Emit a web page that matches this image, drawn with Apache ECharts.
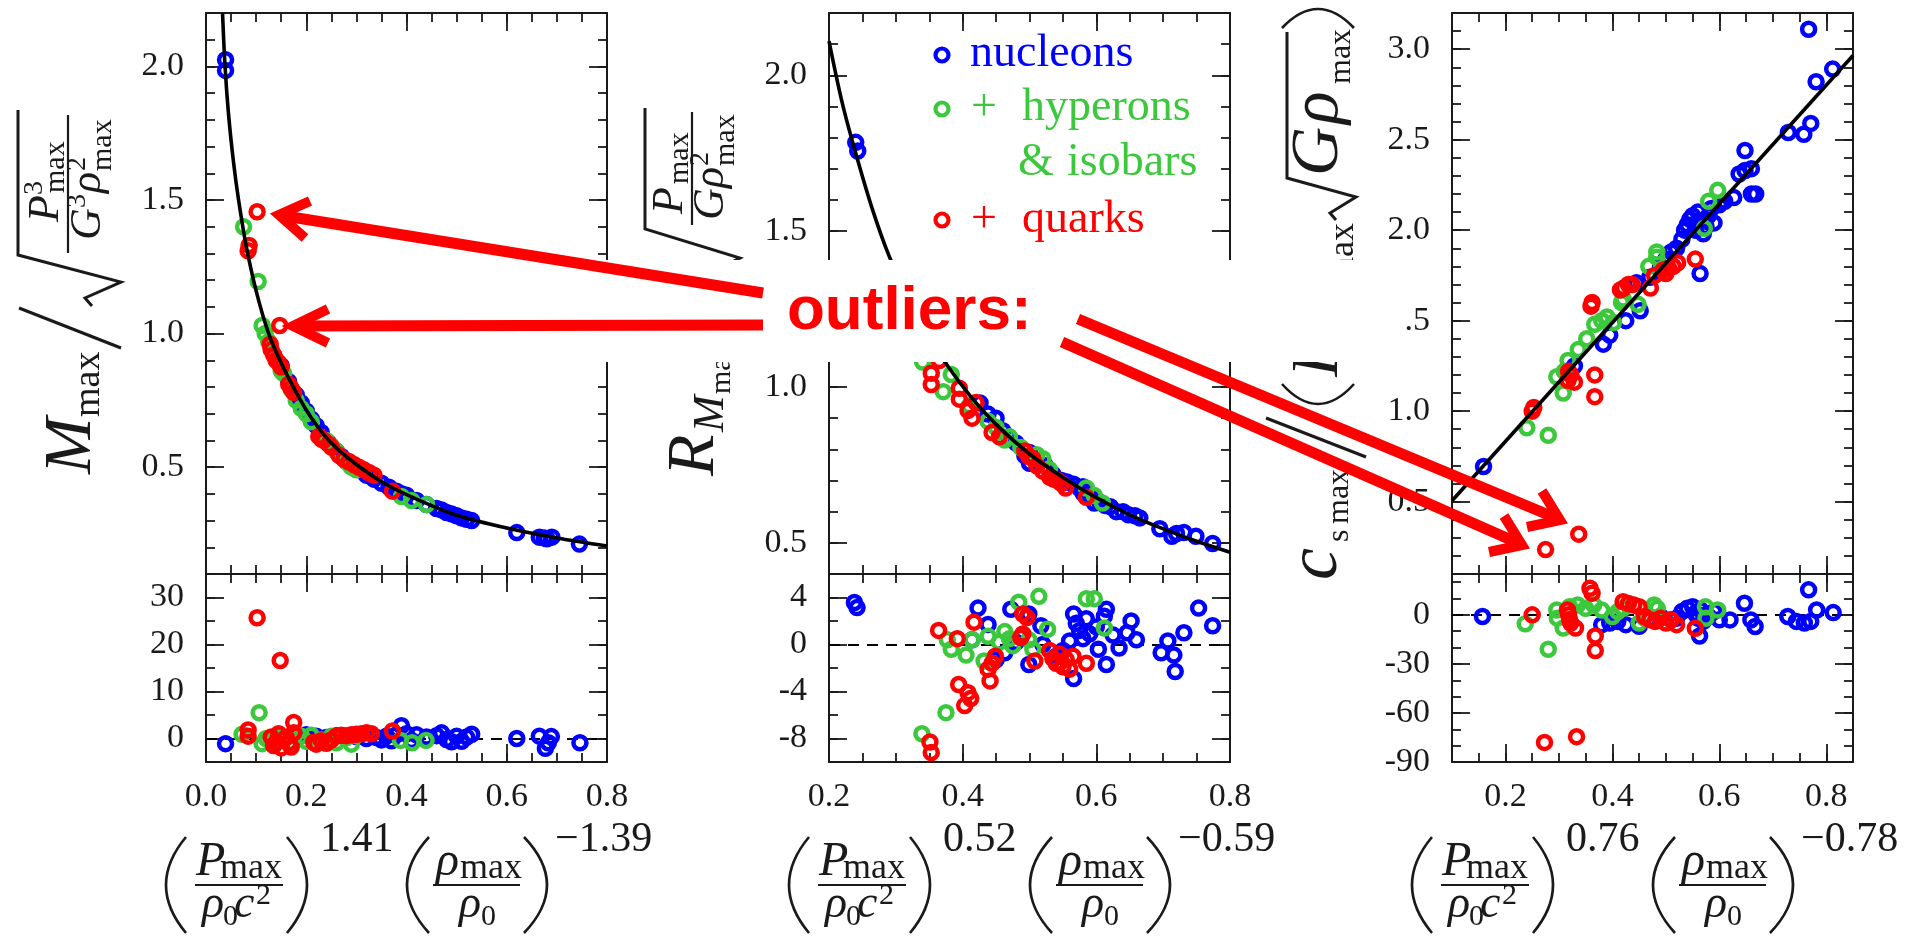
<!DOCTYPE html>
<html>
<head>
<meta charset="utf-8">
<script src="https://cdn.jsdelivr.net/npm/echarts@6/dist/echarts.min.js"></script>
<style>
  html, body { margin: 0; padding: 0; background: #ffffff; }
  #chart { width: 1907px; height: 938px; }
</style>
</head>
<body>
<div id="chart"></div>
<script>
// ---------------- data ----------------
// Panel 1: M_max scaled, against (P/rho0 c^2)^1.41 (rho/rho0)^-1.39
const massNucleons = [[0.039,2.025],[0.039,1.985],[0.15,0.88],[0.165,0.82],[0.18,0.77],[0.19,0.74],[0.2,0.71],[0.21,0.68],[0.22,0.655],[0.23,0.63],[0.245,0.59],[0.26,0.56],[0.27,0.54],[0.285,0.52],[0.3,0.5],[0.32,0.47],[0.335,0.455],[0.35,0.44],[0.365,0.425],[0.38,0.41],[0.39,0.4],[0.4,0.395],[0.42,0.375],[0.44,0.36],[0.46,0.345],[0.47,0.34],[0.48,0.33],[0.49,0.325],[0.5,0.318],[0.51,0.31],[0.52,0.305],[0.53,0.3],[0.62,0.255],[0.665,0.238],[0.675,0.235],[0.68,0.232],[0.69,0.238],[0.745,0.212]];
const massHyperons = [[0.075,1.4],[0.104,1.195],[0.112,1.03],[0.118,1.0],[0.125,0.97],[0.15,0.86],[0.155,0.85],[0.17,0.79],[0.18,0.75],[0.19,0.72],[0.2,0.7],[0.21,0.67],[0.24,0.6],[0.25,0.58],[0.26,0.56],[0.28,0.52],[0.29,0.5],[0.3,0.49],[0.39,0.39],[0.41,0.375],[0.44,0.36]];
const massQuarks = [[0.086,1.33],[0.084,1.31],[0.102,1.456],[0.147,1.03],[0.128,0.96],[0.13,0.94],[0.135,0.92],[0.14,0.9],[0.145,0.89],[0.15,0.875],[0.165,0.81],[0.17,0.795],[0.175,0.78],[0.225,0.615],[0.23,0.605],[0.235,0.6],[0.245,0.585],[0.25,0.575],[0.265,0.545],[0.275,0.53],[0.285,0.52],[0.295,0.51],[0.305,0.5],[0.315,0.49],[0.325,0.48],[0.335,0.47],[0.372,0.41]];
const massFit = [[0.033,2.2],[0.038,2.0],[0.045,1.82],[0.055,1.64],[0.065,1.5],[0.08,1.33],[0.1,1.16],[0.125,1.0],[0.15,0.89],[0.18,0.78],[0.21,0.685],[0.25,0.59],[0.3,0.51],[0.36,0.435],[0.43,0.372],[0.5,0.32],[0.6,0.272],[0.7,0.235],[0.8,0.205]];
const massDevNucleons = [[0.039,-1.1],[0.15,0.5],[0.18,0.6],[0.2,0.8],[0.22,0.5],[0.24,0.2],[0.26,0.6],[0.28,0.3],[0.3,0.4],[0.32,0.0],[0.34,0.2],[0.35,-0.3],[0.36,0.5],[0.37,-0.5],[0.38,0.8],[0.39,2.7],[0.4,1.0],[0.41,-0.4],[0.42,0.8],[0.44,0.3],[0.46,0.6],[0.47,1.2],[0.48,-0.2],[0.49,-0.7],[0.5,0.5],[0.51,-0.6],[0.52,0.3],[0.53,0.9],[0.62,0.0],[0.665,0.5],[0.677,-2.1],[0.683,-0.9],[0.689,0.4],[0.746,-0.9]];
const massDevHyperons = [[0.072,0.9],[0.106,5.5],[0.112,-1.1],[0.12,0.0],[0.13,-0.5],[0.15,0.3],[0.17,-0.8],[0.19,0.5],[0.2,-0.6],[0.21,0.7],[0.23,-0.3],[0.25,0.5],[0.26,-0.9],[0.28,0.2],[0.29,-1.2],[0.3,0.6],[0.388,-0.4],[0.411,-0.9],[0.439,-0.4]];
const massDevQuarks = [[0.102,25.7],[0.148,16.6],[0.175,3.4],[0.084,1.8],[0.084,0.5],[0.13,0.3],[0.135,-1.5],[0.14,-0.8],[0.145,1.0],[0.15,-2.0],[0.16,0.2],[0.165,-1.0],[0.17,-1.8],[0.175,1.2],[0.215,-0.8],[0.22,-1.2],[0.23,-0.5],[0.24,-1.0],[0.25,-0.3],[0.26,0.5],[0.27,0.7],[0.28,0.6],[0.29,0.8],[0.3,0.9],[0.31,1.0],[0.32,1.2],[0.33,1.0],[0.372,1.6]];

// Panel 2: radius of the maximum-mass star
const radiusNucleons = [[0.24,1.785],[0.243,1.757],[0.426,0.949],[0.438,0.913],[0.45,0.9],[0.46,0.86],[0.469,0.84],[0.48,0.82],[0.493,0.78],[0.5,0.79],[0.5,0.755],[0.51,0.76],[0.524,0.747],[0.535,0.72],[0.548,0.7],[0.556,0.695],[0.566,0.688],[0.575,0.675],[0.58,0.66],[0.58,0.68],[0.59,0.655],[0.597,0.628],[0.605,0.63],[0.613,0.62],[0.621,0.616],[0.63,0.6],[0.64,0.6],[0.648,0.59],[0.658,0.587],[0.665,0.58],[0.695,0.545],[0.713,0.521],[0.72,0.53],[0.731,0.533],[0.749,0.521],[0.774,0.498]];
const radiusHyperons = [[0.33,1.16],[0.35,1.12],[0.34,1.08],[0.371,0.985],[0.383,1.04],[0.41,0.94],[0.438,0.89],[0.45,0.87],[0.463,0.83],[0.47,0.84],[0.487,0.806],[0.511,0.783],[0.52,0.77],[0.53,0.735],[0.585,0.676],[0.597,0.652],[0.609,0.628]];
const radiusQuarks = [[0.34,1.15],[0.345,1.12],[0.353,1.044],[0.353,1.008],[0.365,1.085],[0.395,0.996],[0.395,0.961],[0.408,0.925],[0.414,0.9],[0.42,0.95],[0.444,0.854],[0.455,0.84],[0.493,0.795],[0.499,0.777],[0.505,0.77],[0.511,0.747],[0.52,0.73],[0.53,0.711],[0.536,0.705],[0.542,0.7],[0.548,0.69],[0.554,0.676],[0.585,0.646]];
const radiusFit = [[0.2,2.11],[0.22,1.91],[0.24,1.75],[0.265,1.57],[0.29,1.42],[0.32,1.28],[0.35,1.16],[0.38,1.06],[0.41,0.975],[0.45,0.88],[0.5,0.785],[0.55,0.71],[0.6,0.645],[0.65,0.59],[0.7,0.545],[0.75,0.505],[0.8,0.47]];
const radiusDevNucleons = [[0.238,3.57],[0.242,3.14],[0.423,3.1],[0.472,3.0],[0.438,1.7],[0.499,2.6],[0.517,1.6],[0.499,-1.7],[0.566,-2.9],[0.566,2.6],[0.57,1.8],[0.575,1.2],[0.58,0.5],[0.585,2.2],[0.59,0.9],[0.56,0.3],[0.55,-0.5],[0.615,3.0],[0.612,2.4],[0.615,-1.7],[0.652,2.0],[0.646,1.0],[0.66,0.4],[0.634,-0.3],[0.697,-0.7],[0.707,0.3],[0.716,-0.9],[0.718,-2.3],[0.731,1.0],[0.753,3.1],[0.774,1.6],[0.603,-0.4],[0.463,-0.7],[0.45,-1.3],[0.414,0.4],[0.48,0.2],[0.52,0.0],[0.54,-1.0],[0.6,1.5],[0.625,0.8]];
const radiusDevHyperons = [[0.514,4.1],[0.484,3.6],[0.585,3.9],[0.597,3.9],[0.612,1.4],[0.527,1.3],[0.463,1.1],[0.438,0.7],[0.414,0.4],[0.377,0.4],[0.383,-0.4],[0.405,-0.9],[0.432,-1.4],[0.475,-0.1],[0.499,0.4],[0.505,-0.4],[0.375,-5.8],[0.339,-7.6],[0.455,0.2],[0.47,0.5]];
const radiusDevQuarks = [[0.351,-8.3],[0.353,-9.2],[0.364,1.2],[0.392,0.5],[0.417,1.9],[0.394,-3.4],[0.408,-4.1],[0.412,-4.6],[0.403,-5.2],[0.441,-3.1],[0.438,-2.1],[0.444,-1.6],[0.449,-1.0],[0.49,2.6],[0.496,2.3],[0.49,0.9],[0.487,0.6],[0.508,-1.4],[0.53,-0.5],[0.535,-1.2],[0.54,-1.6],[0.545,-0.8],[0.55,-1.9],[0.555,-1.3],[0.56,-2.1],[0.565,-1.0],[0.585,-1.6]];

// Panel 3: maximum sound speed
const soundNucleons = [[0.159,0.694],[0.767,3.11],[0.812,2.89],[0.781,2.82],[0.771,2.59],[0.729,2.54],[0.758,2.53],[0.648,2.44],[0.637,2.31],[0.648,2.33],[0.66,2.34],[0.668,2.2],[0.66,2.2],[0.627,2.18],[0.53,1.95],[0.535,2.0],[0.54,2.03],[0.545,2.06],[0.55,2.08],[0.555,2.0],[0.56,2.1],[0.565,2.05],[0.57,1.98],[0.575,2.02],[0.58,2.08],[0.585,2.12],[0.59,2.04],[0.6,2.14],[0.61,2.16],[0.52,1.9],[0.51,1.88],[0.564,1.76],[0.452,1.555],[0.425,1.5],[0.395,1.42],[0.383,1.37],[0.329,1.25],[0.445,1.71],[0.5,1.84],[0.47,1.74],[0.49,1.8]];
const soundHyperons = [[0.24,0.908],[0.28,0.867],[0.296,1.19],[0.308,1.1],[0.31,1.22],[0.317,1.28],[0.336,1.34],[0.352,1.4],[0.367,1.48],[0.38,1.5],[0.39,1.52],[0.402,1.49],[0.417,1.6],[0.42,1.62],[0.448,1.59],[0.468,1.8],[0.483,1.88],[0.483,1.85],[0.572,2.01],[0.58,2.16],[0.597,2.22]];
const soundQuarks = [[0.275,0.235],[0.337,0.32],[0.25,1.0],[0.253,1.02],[0.317,1.17],[0.318,1.22],[0.322,1.2],[0.329,1.16],[0.367,1.2],[0.367,1.08],[0.36,1.58],[0.362,1.6],[0.415,1.67],[0.421,1.68],[0.43,1.7],[0.437,1.7],[0.471,1.68],[0.479,1.75],[0.495,1.78],[0.5,1.76],[0.505,1.79],[0.514,1.8],[0.522,1.82],[0.555,1.84]];
const soundFit = [[0.1,0.505],[0.85,2.965]];
const soundDevNucleons = [[0.157,-1],[0.767,15.3],[0.728,-1],[0.744,-4],[0.759,-5],[0.771,-4],[0.782,3],[0.813,1.4],[0.647,7.1],[0.667,-7.1],[0.659,-3.1],[0.62,-3.1],[0.563,-12.9],[0.53,2],[0.54,4],[0.55,5],[0.555,1],[0.56,-2],[0.565,3],[0.57,-4],[0.575,0],[0.58,-1],[0.59,2],[0.6,-3],[0.52,-2],[0.51,-3],[0.38,-6],[0.395,-5],[0.41,-4],[0.425,-6],[0.45,-7],[0.47,-2],[0.49,-1]];
const soundDevHyperons = [[0.237,-5.5],[0.28,-21],[0.296,3],[0.297,-2],[0.308,-8],[0.32,5],[0.335,6],[0.35,4],[0.365,6],[0.38,3],[0.4,-1],[0.41,2],[0.42,4],[0.45,-5],[0.46,-2],[0.478,6.1],[0.484,4],[0.574,5],[0.597,3],[0.575,-2]];
const soundDevQuarks = [[0.25,0],[0.333,-74.5],[0.273,-78],[0.358,16.3],[0.362,13.3],[0.368,-12.9],[0.368,-21.8],[0.316,3],[0.318,0],[0.32,-3],[0.322,-5],[0.331,-8],[0.42,8],[0.43,7],[0.44,6],[0.45,5],[0.46,-1],[0.47,-3],[0.48,-4],[0.49,-2],[0.5,-5],[0.51,-3],[0.52,-6],[0.555,-8.2]];

// axis ranges and tick values
const xRanges = [[0, 0.8], [0.2, 0.8], [0.1, 0.85]];
const xTickValues = [[0, 0.2, 0.4, 0.6, 0.8], [0.2, 0.4, 0.6, 0.8], [0.2, 0.4, 0.6, 0.8]];
const xMinorStep = 0.05;
const upperRanges = [[0.1, 2.2], [0.4, 2.2], [0.1, 3.2]];
const upperTickValues = [[0.5, 1.0, 1.5, 2.0], [0.5, 1.0, 1.5, 2.0], [0.5, 1.0, 1.5, 2.0, 2.5, 3.0]];
const upperMinorStep = 0.1;
const lowerRanges = [[-5, 35], [-10, 6], [-90, 25]];
const lowerTickValues = [[0, 10, 20, 30], [-8, -4, 0, 4], [-90, -60, -30, 0]];
const lowerMinorSteps = [5, 2, 10];
const exponentLabels = [['1.41', '\u22121.39'], ['0.52', '\u22120.59'], ['0.76', '\u22120.78']];

// ---------------- styling / layout ----------------
const SERIF = '"Liberation Serif", "Times New Roman", serif';
const SANS = '"Liberation Sans", Arial, sans-serif';
const INK = '#1a1a1a';
const RED = '#ff0000';
const groupColors = ['#0000ff', '#3cc83c', '#ff0000'];
const panelLefts = [206, 829, 1452];
const panelWidth = 401;
const upperTop = 13, upperHeight = 561, lowerTop = 574, lowerHeight = 188;

const panelData = [
  { upper: [massNucleons, massHyperons, massQuarks], fit: massFit, lower: [massDevNucleons, massDevHyperons, massDevQuarks] },
  { upper: [radiusNucleons, radiusHyperons, radiusQuarks], fit: radiusFit, lower: [radiusDevNucleons, radiusDevHyperons, radiusDevQuarks] },
  { upper: [soundNucleons, soundHyperons, soundQuarks], fit: soundFit, lower: [soundDevNucleons, soundDevHyperons, soundDevQuarks] }
];

const grids = [], xAxes = [], yAxes = [], series = [];
const frameLine = { show: true, onZero: false, lineStyle: { color: INK, width: 2 } };
const tickLine = { color: INK, width: 1.8 };

function addAxisSet(list, gridIndex, range, majors, minorStep, sides, labelOpts) {
  const base = { type: 'value', gridIndex: gridIndex, min: range[0], max: range[1], splitLine: { show: false }, splitArea: { show: false } };
  const mainIndex = list.length;
  sides.forEach(function (side, k) {
    list.push(Object.assign({}, base, {
      position: side,
      axisLine: frameLine,
      axisTick: { show: true, inside: true, length: 18, customValues: majors, lineStyle: tickLine },
      axisLabel: (k === 0 && labelOpts) ? Object.assign({ show: true, customValues: majors, showMinLabel: true, showMaxLabel: true, hideOverlap: false,
        fontSize: 34, fontFamily: SERIF, color: INK }, labelOpts) : { show: false }
    }));
    list.push(Object.assign({}, base, {
      position: side,
      interval: minorStep,
      axisLine: { show: false, onZero: false },
      axisTick: { show: true, inside: true, length: 9, lineStyle: tickLine },
      axisLabel: { show: false }
    }));
  });
  return mainIndex;
}

function ring(data, color, xi, yi) {
  return {
    type: 'scatter', data: data, xAxisIndex: xi, yAxisIndex: yi, silent: true, clip: false,
    symbol: 'circle', symbolSize: 13,
    itemStyle: { color: 'rgba(0,0,0,0)', borderColor: color, borderWidth: 4.5, opacity: 1 },
    z: 3
  };
}

panelData.forEach(function (p, i) {
  const L = panelLefts[i];
  // upper panel
  const gu = grids.length;
  grids.push({ left: L, top: upperTop, width: panelWidth, height: upperHeight, containLabel: false });
  const xu = addAxisSet(xAxes, gu, xRanges[i], xTickValues[i], xMinorStep, ['bottom', 'top'], null);
  const yu = addAxisSet(yAxes, gu, upperRanges[i], upperTickValues[i], upperMinorStep, ['left', 'right'],
    { margin: 22, formatter: function (v) { return v.toFixed(1); } });
  p.upper.forEach(function (d, g) { series.push(ring(d, groupColors[g], xu, yu)); });
  series.push({ type: 'line', data: p.fit, xAxisIndex: xu, yAxisIndex: yu, smooth: 0.35, showSymbol: false, silent: true,
    lineStyle: { color: '#000', width: 3.6 }, z: 5, clip: true });
  // lower panel (relative deviation)
  const gl = grids.length;
  grids.push({ left: L, top: lowerTop, width: panelWidth, height: lowerHeight, containLabel: false });
  const xl = addAxisSet(xAxes, gl, xRanges[i], xTickValues[i], xMinorStep, ['bottom', 'top'],
    { margin: 18, formatter: function (v) { return v.toFixed(1); } });
  const yl = addAxisSet(yAxes, gl, lowerRanges[i], lowerTickValues[i], lowerMinorSteps[i], ['left', 'right'],
    { margin: 22, formatter: function (v) { return String(v); } });
  p.lower.forEach(function (d, g) {
    const s = ring(d, groupColors[g], xl, yl);
    if (g === 0) {
      s.markLine = { silent: true, symbol: ['none', 'none'], label: { show: false }, animation: false,
        lineStyle: { color: '#000', width: 1.8, type: [11, 8] }, data: [{ yAxis: 0 }], z: 1 };
    }
    series.push(s);
  });
});

// ---------------- typeset labels ----------------
function label(x, baseline, text, size, o) {
  o = o || {};
  return {
    type: 'text', x: x, y: baseline - 0.34 * size, z: o.z || 20, silent: true,
    style: {
      text: text, fill: o.color || INK, fontSize: size, fontFamily: o.family || SERIF,
      fontStyle: o.italic ? 'italic' : 'normal', fontWeight: o.bold ? 'bold' : 'normal',
      align: 'left', verticalAlign: 'middle'
    }
  };
}
function seg(x1, y1, x2, y2, w, color, z) {
  return { type: 'line', z: z || 20, silent: true, shape: { x1: x1, y1: y1, x2: x2, y2: y2 },
    style: { stroke: color || INK, lineWidth: w || 2, lineCap: 'butt' } };
}
function poly(points, w, color, z) {
  return { type: 'polyline', z: z || 20, silent: true, shape: { points: points },
    style: { stroke: color || INK, lineWidth: w || 2, fill: null, lineJoin: 'miter', miterLimit: 10 } };
}
// a parenthesis: ends at xEnd, bulging out to xExt
function paren(xEnd, xExt, y1, y2, w) {
  return { type: 'bezierCurve', z: 20, silent: true,
    shape: { x1: xEnd, y1: y1, x2: xEnd, y2: y2, cpx1: 2 * xExt - xEnd, cpy1: (y1 + y2) / 2 },
    style: { stroke: INK, lineWidth: w || 2.6, fill: null } };
}
const IT = { italic: true };

// x-axis quantity below each panel
function xQuantity(L, exps) {
  return [
    paren(L - 20, L - 40, 837, 933),
    label(L - 10, 879, 'P', 48, IT),
    label(L + 14, 881, 'max', 36),
    seg(L - 11, 885, L + 77, 885, 2),
    label(L - 4, 921, '\u03c1', 46, IT),
    label(L + 17, 927, '0', 30),
    label(L + 28, 921, 'c', 46, IT),
    label(L + 50, 906, '2', 30),
    paren(L + 81, L + 101, 837, 933),
    label(L + 114, 854, exps[0], 42),
    paren(L + 223, L + 201, 837, 933),
    label(L + 230, 879, '\u03c1', 48, IT),
    label(L + 254, 881, 'max', 36),
    seg(L + 227, 885, L + 314, 885, 2),
    label(L + 253, 921, '\u03c1', 46, IT),
    label(L + 275, 927, '0', 30),
    paren(L + 318, L + 341, 837, 933),
    label(L + 349, 854, exps[1], 42)
  ];
}

// rotated y-axis quantities (local u runs upward along the text, v to the right)
function rotated(x, y, children) {
  return { type: 'group', x: x, y: y, rotation: Math.PI / 2, silent: true, children: children };
}
const massTitle = rotated(95, 474, [
  label(0, 0, 'M', 68, IT),
  label(57, 7, 'max', 38),
  seg(126, 26, 166, -76, 3.2),
  poly([[168, -3], [176, -10], [192, 26], [219, -77], [364, -77]], 3),
  seg(221, -27, 359, -27, 2.2),
  label(252, -34, 'P', 44, IT),
  label(279, -51, '3', 28),
  label(281, -29, 'max', 30),
  label(234, 8, 'G', 44, IT),
  label(266, -8, '3', 28),
  label(281, 8, '\u03c1', 44, IT),
  label(303, -8, '2', 28),
  label(303, 18, 'max', 30)
]);
const radiusTitle = rotated(718, 476, [
  label(0, 0, 'R', 68, IT),
  label(44, 8, 'M', 44, IT),
  label(82, 14, 'max', 30),
  seg(150, 24, 188, -74, 3.2),
  poly([[194, -3], [202, -10], [218, 22], [247, -73], [368, -73]], 3),
  seg(251, -26, 364, -26, 2.2),
  label(262, -33, 'P', 44, IT),
  label(292, -28, 'max', 30),
  label(256, 8, 'G', 44, IT),
  label(288, 8, '\u03c1', 44, IT),
  label(310, -8, '2', 28),
  label(310, 18, 'max', 30)
]);
const soundTitle = rotated(1342, 580, [
  label(0, 0, 'c', 72, IT),
  label(38, 8, 's', 32),
  label(56, 8, 'max', 32),
  seg(123, 24, 162, -76, 3.2),
  paren(196, 176, -60, 12),
  label(203, 0, 'R', 68, IT),
  label(248, 8, 'M', 44, IT),
  label(295, 14, 'max', 36),
  poly([[360, -6], [367, -12], [383, 14], [402, -55], [548, -55]], 3),
  label(404, 0, 'G', 68, IT),
  label(456, 0, '\u03c1', 68, IT),
  label(496, 10, 'max', 32),
  paren(552, 571, -60, 12)
]);

// legend block inside the middle panel
const legendEls = [];
const legendMarks = [55, 109, 220];
legendMarks.forEach(function (cy, g) {
  legendEls.push({ type: 'circle', z: 20, silent: true, shape: { cx: 942, cy: cy, r: 6.5 },
    style: { fill: null, stroke: groupColors[g], lineWidth: 4.2 } });
});
legendEls.push(label(970, 70, 'nucleons', 46, { color: groupColors[0] }));
legendEls.push(label(971, 124, '+', 46, { color: groupColors[1] }));
legendEls.push(label(1022, 124, 'hyperons', 46, { color: groupColors[1] }));
legendEls.push(label(1018, 179, '&', 46, { color: groupColors[1] }));
legendEls.push(label(1067, 179, 'isobars', 46, { color: groupColors[1] }));
legendEls.push(label(971, 236, '+', 46, { color: groupColors[2] }));
legendEls.push(label(1022, 236, 'quarks', 46, { color: groupColors[2] }));

// "outliers:" callout with its arrows
const callout = [
  { type: 'rect', z: 50, silent: true, shape: { x: 560, y: 260, width: 845, height: 102 }, style: { fill: '#ffffff' } },
  label(787, 333, 'outliers:', 62, { family: SANS, bold: true, color: RED, z: 60 }),
  seg(763, 293, 285, 216, 11, RED, 60),
  poly([[310, 201], [279, 215], [305, 238]], 10, RED, 60),
  seg(763, 325, 296, 326, 11, RED, 60),
  poly([[328, 309], [293, 326], [328, 343]], 10, RED, 60),
  seg(1078, 319, 1556, 518, 11, RED, 60),
  poly([[1542, 491], [1560, 520], [1527, 527]], 10, RED, 60),
  seg(1062, 342, 1518, 543, 11, RED, 60),
  poly([[1504, 516], [1522, 545], [1489, 552]], 10, RED, 60)
];

let graphicEls = [massTitle, radiusTitle, soundTitle].concat(legendEls, callout);
panelLefts.forEach(function (L, i) { graphicEls = graphicEls.concat(xQuantity(L, exponentLabels[i])); });

const chart = echarts.init(document.getElementById('chart'), null, { renderer: 'canvas' });
chart.setOption({
  animation: false,
  backgroundColor: '#ffffff',
  grid: grids,
  xAxis: xAxes,
  yAxis: yAxes,
  series: series,
  graphic: { elements: graphicEls }
});
</script>
</body>
</html>
